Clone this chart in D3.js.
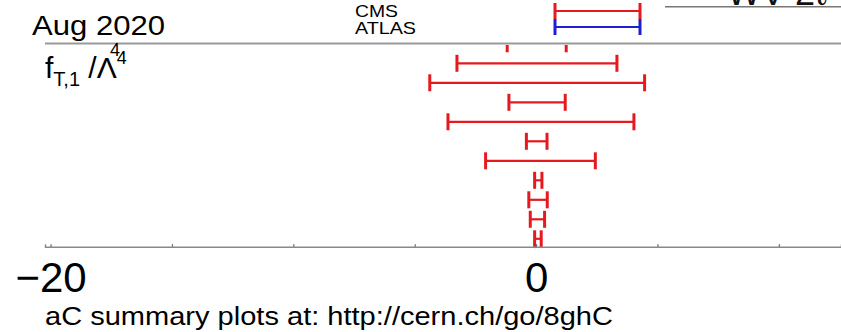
<!DOCTYPE html>
<html>
<head>
<meta charset="utf-8">
<script src="https://cdn.jsdelivr.net/npm/d3@7"></script>
<style>
  body { margin: 0; background: #fff; }
  text { font-family: "Liberation Sans", Arial, sans-serif; }
</style>
</head>
<body>
<div id="chart"></div>
<script>
// limits on fT1/Lambda^4, one row per measurement (top to bottom)
var rows = ["r1", "r2", "r3", "r4", "r5", "r6", "r7", "r8", "r9", "r10", "r11"];
var lower = [-1.19, -3.26, -4.38, -1.12, -3.63, -0.40, -2.08, -0.06, -0.30, -0.24, -0.06];
var upper = [1.24, 3.33, 4.47, 1.20, 4.03, 0.45, 2.44, 0.24, 0.46, 0.35, 0.21];
var experiment = ["CMS", "CMS", "CMS", "CMS", "CMS", "CMS", "CMS", "CMS", "CMS", "CMS", "CMS"];

var legendNames = ["CMS", "ATLAS"];
var tickValues = [-20, -15, -10, -5, 0, 5, 10];

var W = 841, H = 332;
var color = {CMS: "#e5191f", ATLAS: "#1f1fcf"};

var svg = d3.select("#chart").append("svg")
    .attr("width", W)
    .attr("height", H);

// scales
var x = d3.scaleLinear().domain([-20.23, 12.56]).range([45, 841]);
var y = d3.scalePoint().domain(rows).range([43.8, 238.8]);

// clip so nothing goes over the top frame line
svg.append("defs").append("clipPath")
    .attr("id", "clip")
    .append("rect")
    .attr("x", 45).attr("y", 45)
    .attr("width", W - 45).attr("height", 202);

var data = rows.map(function(r, i) {
    return {row: r, lo: lower[i], hi: upper[i], exp: experiment[i]};
});

var plot = svg.append("g").attr("clip-path", "url(#clip)");
var bars = plot.selectAll(".lim")
    .data(data)
    .enter().append("g")
    .attr("class", "lim")
    .attr("stroke", function(d) { return color[d.exp]; });

bars.append("line")
    .attr("x1", function(d) { return x(d.lo); })
    .attr("x2", function(d) { return x(d.hi); })
    .attr("y1", function(d) { return y(d.row); })
    .attr("y2", function(d) { return y(d.row); })
    .attr("stroke-width", 2.2);

bars.selectAll(".cap")
    .data(function(d) { return [{v: d.lo, r: d.row}, {v: d.hi, r: d.row}]; })
    .enter().append("line")
    .attr("class", "cap")
    .attr("x1", function(d) { return x(d.v); })
    .attr("x2", function(d) { return x(d.v); })
    .attr("y1", function(d) { return y(d.r) - 8.5; })
    .attr("y2", function(d) { return y(d.r) + 8.5; })
    .attr("stroke-width", 3);

// frame line under the header
svg.append("line")
    .attr("x1", 45).attr("x2", W)
    .attr("y1", 43.5).attr("y2", 43.5)
    .attr("stroke", "#999").attr("stroke-width", 1.8);

// x axis
var xAxis = svg.append("g")
    .attr("transform", "translate(0,246.7)")
    .call(d3.axisBottom(x)
        .tickValues(tickValues)
        .tickSize(-2.5)
        .tickFormat(function(v) { return v % 20 === 0 ? (v < 0 ? "\u2212" + (-v) : v) : ""; }));
xAxis.select(".domain").attr("stroke", "#888").attr("stroke-width", 1.4);
xAxis.selectAll(".tick line").attr("stroke", "#666").attr("stroke-width", 1.2);
xAxis.selectAll(".tick text")
    .attr("y", 45).attr("dy", 0)
    .attr("font-size", 42)
    .attr("font-family", "Liberation Sans, Arial, sans-serif")
    .attr("fill", "#000");

// header texts
svg.append("text")
    .attr("x", 32).attr("y", 35)
    .attr("font-size", 28)
    .attr("textLength", 133).attr("lengthAdjust", "spacingAndGlyphs")
    .text("Aug 2020");

var lab = svg.append("text").attr("x", 45).attr("y", 78).attr("font-size", 30);
lab.append("tspan").text("f");
lab.append("tspan").attr("font-size", 20).attr("dy", 8).text("T,1");
lab.append("tspan").attr("dy", -8).text(" /\u039B");
lab.append("tspan").attr("font-size", 18).attr("dy", -14).text("4");
svg.append("text")
    .attr("x", 110).attr("y", 56)
    .attr("font-size", 18)
    .text("4");

// legend
legendNames.forEach(function(n, i) {
    var ly = 11 + i * 16;
    svg.append("text")
        .attr("x", 355).attr("y", 17 + i * 17)
        .attr("font-size", 17)
        .attr("textLength", n === "CMS" ? 43 : 61)
        .attr("lengthAdjust", "spacingAndGlyphs")
        .text(n);
    var g = svg.append("g").attr("stroke", color[n]);
    g.append("line").attr("x1", 555).attr("x2", 640).attr("y1", ly).attr("y2", ly).attr("stroke-width", 2.2);
    [555, 640].forEach(function(cx) {
        g.append("line").attr("x1", cx).attr("x2", cx)
            .attr("y1", ly - 8).attr("y2", ly + 8).attr("stroke-width", 3);
    });
});

// cut-off panel title at top right
svg.append("line")
    .attr("x1", 665).attr("x2", W)
    .attr("y1", 6.7).attr("y2", 6.7)
    .attr("stroke", "#777").attr("stroke-width", 1.5);
svg.append("text")
    .attr("x", 727).attr("y", 5)
    .attr("font-size", 36)
    .attr("fill", "#111")
    .text("WV 2\u2113");

// footer
svg.append("text")
    .attr("x", 45).attr("y", 325)
    .attr("font-size", 25)
    .attr("textLength", 568).attr("lengthAdjust", "spacingAndGlyphs")
    .text("aC summary plots at: http://cern.ch/go/8ghC");
</script>
</body>
</html>
